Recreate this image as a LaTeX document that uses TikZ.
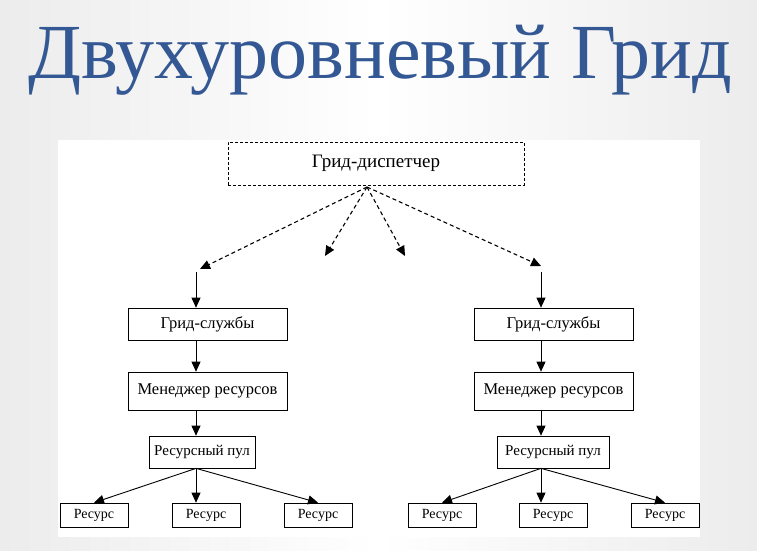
\documentclass[tikz,border=0pt]{standalone}
\usepackage{fontspec}
\setmainfont{Liberation Serif}
\usetikzlibrary{arrows.meta}
\definecolor{ttl}{RGB}{52,88,148}
\definecolor{bg}{RGB}{236,236,236}
\begin{document}
\begin{tikzpicture}[x=1pt,y=-1pt,
  bx/.style={draw,line width=0.7pt,inner sep=0pt,font=\fontsize{16.5}{16.5}\selectfont},
  rs/.style={draw,line width=0.7pt,inner sep=0pt,font=\fontsize{14}{14}\selectfont},
  ar/.style={-{Triangle[length=10pt,width=9pt]},line width=0.9pt},
  da/.style={ar,dash pattern=on 4pt off 3pt,line width=1.1pt}]
\useasboundingbox (0,0) rectangle (757,550);
\shade[left color=bg,right color=bg,middle color=white] (0,0) rectangle (757,550);
\fill[white] (58,140) rectangle (700,537);
\node[text=ttl,font=\fontsize{78}{78}\selectfont] (title) at (380,60) {Двухуровневый Грид};
\node[bx,dash pattern=on 3pt off 2pt,minimum width=296pt,minimum height=43pt,font=\fontsize{19}{19}\selectfont] (gd) at (376,163.5) {Грид-диспетчер};
\coordinate (o) at (367,187);
\coordinate (l1) at (200,269);
\coordinate (l2) at (325,256);
\coordinate (l3) at (405,256);
\coordinate (l4) at (541,266);
\foreach \t in {l1,l2,l3,l4} \draw[da] (o) -- (\t);
\node[bx,minimum width=159pt,minimum height=32pt] (gsL) at (207.5,324) {Грид-службы};
\node[bx,minimum width=159pt,minimum height=32pt] (gsR) at (553.5,324) {Грид-службы};
\node[bx,minimum width=159pt,minimum height=38pt] (mL) at (207.5,391) {Менеджер ресурсов};
\node[bx,minimum width=159pt,minimum height=38pt] (mR) at (553.5,391) {Менеджер ресурсов};
\node[bx,minimum width=106pt,minimum height=32pt,font=\fontsize{15}{15}\selectfont] (pL) at (202,452) {Ресурсный пул};
\node[bx,minimum width=112pt,minimum height=32pt,font=\fontsize{15}{15}\selectfont] (pR) at (553,452) {Ресурсный пул};
\node[rs,minimum width=68pt,minimum height=24pt] (r1) at (94,515) {Ресурс};
\node[rs,minimum width=68pt,minimum height=24pt] (r2) at (206,515) {Ресурс};
\node[rs,minimum width=68pt,minimum height=24pt] (r3) at (318,515) {Ресурс};
\node[rs,minimum width=68pt,minimum height=24pt] (r4) at (442,515) {Ресурс};
\node[rs,minimum width=68pt,minimum height=24pt] (r5) at (553,515) {Ресурс};
\node[rs,minimum width=68pt,minimum height=24pt] (r6) at (665,515) {Ресурс};
\draw[ar] (196,272) -- (gsL.north -| 196,0);
\draw[ar] (541,272) -- (gsR.north -| 541,0);
\draw[ar] (gsL.south -| 196,0) -- (mL.north -| 196,0);
\draw[ar] (gsR.south -| 541,0) -- (mR.north -| 541,0);
\draw[ar] (mL.south -| 196,0) -- (pL.north -| 196,0);
\draw[ar] (mR.south -| 541,0) -- (pR.north -| 541,0);
\coordinate (pl) at (pL.south -| 196,0);
\coordinate (pr) at (pR.south -| 541,0);
\draw[ar] (pl) -- (r1.north);
\draw[ar] (pl) -- (pl |- r2.north);
\draw[ar] (pl) -- (r3.north);
\draw[ar] (pr) -- (r4.north);
\draw[ar] (pr) -- (pr |- r5.north);
\draw[ar] (pr) -- (r6.north);
\end{tikzpicture}
\end{document}
